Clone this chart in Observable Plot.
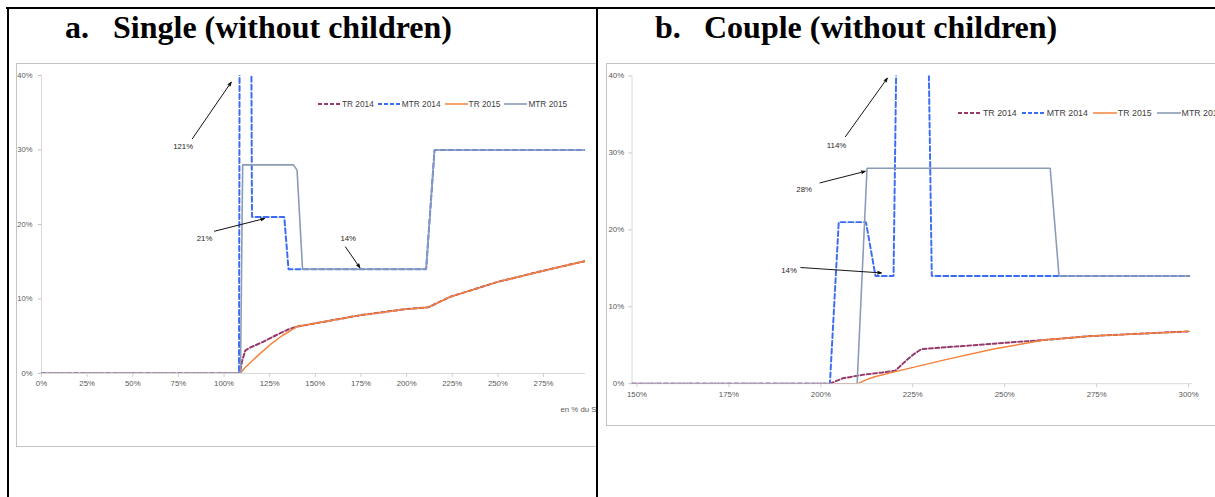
<!DOCTYPE html>
<html><head><meta charset="utf-8">
<script src="https://cdn.jsdelivr.net/npm/d3@7"></script>
<script src="https://cdn.jsdelivr.net/npm/@observablehq/plot@0.6"></script>
<style>
html,body{margin:0;padding:0;background:#fff;}
body{width:1215px;height:497px;position:relative;overflow:hidden;font-family:"Liberation Sans",Arial,sans-serif;}
.bar{position:absolute;background:#000;z-index:5;}
.title{position:absolute;font-family:"Liberation Serif","Times New Roman",serif;font-weight:bold;font-size:32px;line-height:32px;color:#000;white-space:nowrap;}
.frame{position:absolute;border:1px solid #c4c4c4;box-sizing:border-box;pointer-events:none;z-index:2;}
.chart{position:absolute;overflow:hidden;z-index:1;}
.legend{position:absolute;display:flex;align-items:center;white-space:nowrap;color:#404040;z-index:3;}
.legend .item{display:flex;align-items:center;}
.legend svg{display:block;}
</style></head><body>
<div class="bar" style="left:6px;top:7px;width:1209px;height:2px"></div>
<div class="bar" style="left:7px;top:7px;width:2px;height:490px"></div>
<div class="bar" style="left:596px;top:7px;width:2px;height:490px"></div>
<div class="title" style="left:65px;top:11px">a.</div>
<div class="title" style="left:113px;top:11px">Single (without children)</div>
<div class="title" style="left:655px;top:11px">b.</div>
<div class="title" style="left:704px;top:11px">Couple (without children)</div>
<div class="frame" style="left:16px;top:63px;width:581px;height:384px"></div>
<div class="frame" style="left:606px;top:63px;width:620px;height:363px"></div>
<div id="single" class="chart" style="left:16px;top:63px;width:580px;height:384px"></div>
<div id="couple" class="chart" style="left:606px;top:63px;width:609px;height:363px"></div>
<div id="legSingle" class="legend" style="left:318px;top:98px;height:12px;font-size:8.3px"></div>
<div id="legCouple" class="legend" style="left:958px;top:107px;height:12px;font-size:8.8px"></div>
<script>
// ---------- data ----------
const seriesNames = ["TR 2014", "MTR 2014", "TR 2015", "MTR 2015"];
const yTicks = [0, 10, 20, 30, 40];
const singleXTicks = [0, 25, 50, 75, 100, 125, 150, 175, 200, 225, 250, 275];
const coupleXTicks = [150, 175, 200, 225, 250, 275, 300];
const xAxisNote = "en % du Smic";

// panel a: single (x = % of Smic, y = rate %)
const singleTR2014 = [[0,0],[108.6,0],[110,1.8],[111.7,3.1],[114.5,3.5],[121.8,4.3],[129,5.2],[135,5.9],[140,6.3],[147,6.6],[174,7.8],[198,8.6],[212,8.9],[224,10.3],[250,12.3],[275,13.8],[298,15.1]];
const singleMTR2014 = [[0,0],[108.2,0],[109.1,121],[113.7,121],[115.3,21],[133,21],[135.3,14],[210.7,14],[215.3,30],[298,30]];
const singleTR2015 = [[0,0],[108.6,0],[112,0.9],[118,2.3],[125.4,3.9],[132,5.1],[140,6.3],[147,6.6],[174,7.8],[198,8.6],[212,8.9],[224,10.3],[250,12.3],[275,13.8],[298,15.1]];
const singleMTR2015 = [[0,0],[109,0],[110.2,28],[138,28],[140,27.3],[143,14],[210.7,14],[215.3,30],[298,30]];
const singleNoteLabels = ["121%", "21%", "14%"];
const singleNoteText = [[77.6,30.5],[89.3,18.1],[168,18.1]];
const singleNoteArrows = [[82.6,31.5,103.9,39.1],[94.8,19.1,122.2,20.8],[166.5,17.0,174.4,14.2]];

// panel b: couple
const coupleTR2014 = [[150,0],[203.8,0],[207.3,0.7],[212.7,1.15],[218,1.45],[221.6,1.7],[224.3,2.9],[226.5,3.8],[228.7,4.5],[240,4.9],[251,5.3],[262.5,5.7],[275,6.2],[288,6.5],[301.5,6.8]];
const coupleMTR2014 = [[150,0],[203.8,0],[206.2,21],[213.6,21],[216.2,14],[221.1,14],[223.8,114],[228.5,114],[231.5,14],[301.5,14]];
const coupleTR2015 = [[150,0],[211.4,0],[213.6,0.5],[216,0.9],[221.6,1.57],[235,3.1],[248.3,4.5],[262.5,5.7],[275,6.2],[288,6.5],[301.5,6.8]];
const coupleMTR2015 = [[150,0],[211.2,0],[213.9,28],[263.7,28],[266.1,14],[301.5,14]];
const coupleNoteLabels = ["114%", "28%", "14%"];
const coupleNoteText = [[205.6,31.0],[196.8,25.3],[192.7,14.7]];
const coupleNoteArrows = [[208.0,32.1,219.4,39.7],[201.1,26.1,213.4,27.6],[195.9,15.1,217.8,14.4]];

// ---------- styles ----------
const seriesStyle = {
  "TR 2014":  {stroke: "#953a6b", dash: "4,2.5", width: 2},
  "MTR 2014": {stroke: "#3b6cf4", dash: "5,3", width: 2},
  "TR 2015":  {stroke: "#f4823b", dash: null, width: 1.5},
  "MTR 2015": {stroke: "#8a9bb8", dash: null, width: 1.6}
};
const font = "'Liberation Sans', Arial, sans-serif";

function lineMarks(seriesArrays) {
  return seriesNames.map((name, i) => {
    const s = seriesStyle[name];
    return Plot.line(seriesArrays[i], {
      x: d => d[0], y: d => d[1],
      stroke: s.stroke, strokeWidth: s.width,
      strokeDasharray: s.dash || undefined,
      strokeLinejoin: "miter", clip: true
    });
  });
}

function notes(labels, textPos, arrows, fs) {
  const rows = labels.map((l, i) => ({label: l, tx: textPos[i][0], ty: textPos[i][1],
    x1: arrows[i][0], y1: arrows[i][1], x2: arrows[i][2], y2: arrows[i][3]}));
  return [
    Plot.arrow(rows, {x1: "x1", y1: "y1", x2: "x2", y2: "y2", stroke: "#111", fill: "#111", strokeWidth: 1, strokeLinejoin: "miter", strokeMiterlimit: 10, headLength: 6, headAngle: 40}),
    Plot.text(rows, {x: "tx", y: "ty", text: "label", fontSize: fs, fill: "#262626"})
  ];
}

// ---------- panel a ----------
const single = Plot.plot({
  width: 580, height: 384,
  marginLeft: 25, marginRight: 11, marginTop: 12, marginBottom: 74,
  style: {background: "transparent", fontFamily: font},
  x: {domain: [0, 298], label: null},
  y: {domain: [0, 40], label: null},
  marks: [
    Plot.ruleY([0], {stroke: "#d9d9d9"}),
    Plot.ruleX([0], {stroke: "#d9d9d9"}),
    Plot.axisY(yTicks, {tickFormat: d => d + "%", tickSize: 3, tickPadding: 6, fontSize: 7.6, fill: "#595959", stroke: "#bfbfbf", label: null}),
    Plot.axisX(singleXTicks, {tickFormat: d => d + "%", tickSize: 4, tickPadding: 3, fontSize: 7.8, fill: "#595959", stroke: "#d0d0d0", label: null}),
    ...lineMarks([singleTR2014, singleMTR2014, singleTR2015, singleMTR2015]),
    ...notes(singleNoteLabels, singleNoteText, singleNoteArrows, 7.8),
    Plot.text([xAxisNote], {frameAnchor: "bottom-right", textAnchor: "start", dx: -25, dy: 38, fontSize: 7.8, fill: "#595959"})
  ]
});
document.getElementById("single").append(single);

// ---------- panel b ----------
const couple = Plot.plot({
  width: 620, height: 363,
  marginLeft: 26, marginRight: 23, marginTop: 12.7, marginBottom: 37,
  style: {background: "transparent", fontFamily: font},
  x: {domain: [150, 302.5], label: null},
  y: {domain: [0, 40], label: null},
  marks: [
    Plot.ruleY([0], {stroke: "#d9d9d9"}),
    Plot.ruleX([150], {stroke: "#d9d9d9"}),
    Plot.axisY(yTicks, {tickFormat: d => d + "%", tickSize: 3, tickPadding: 5, fontSize: 8, fill: "#595959", stroke: "#bfbfbf", label: null}),
    Plot.axisX(coupleXTicks, {tickFormat: d => d + "%", tickSize: 4, tickPadding: 4, dx: 5, fontSize: 8, fill: "#595959", stroke: "#d0d0d0", label: null}),
    ...lineMarks([coupleTR2014, coupleMTR2014, coupleTR2015, coupleMTR2015]),
    ...notes(coupleNoteLabels, coupleNoteText, coupleNoteArrows, 8)
  ]
});
document.getElementById("couple").append(couple);

// ---------- legends ----------
function legend(id, lineW, gapAfterText) {
  const el = document.getElementById(id);
  seriesNames.forEach((name, i) => {
    const s = seriesStyle[name];
    const item = document.createElement("div");
    item.className = "item";
    item.style.marginRight = gapAfterText + "px";
    item.innerHTML = `<svg width="${lineW}" height="8"><line x1="0" x2="${lineW}" y1="4" y2="4" stroke="${s.stroke}" stroke-width="${s.width}" ${s.dash ? `stroke-dasharray="4,2"` : ""}/></svg><span style="margin-left:1px">${name}</span>`;
    el.append(item);
  });
}
legend("legSingle", 23, 4);
legend("legCouple", 24, 5);
</script>
</body></html>
